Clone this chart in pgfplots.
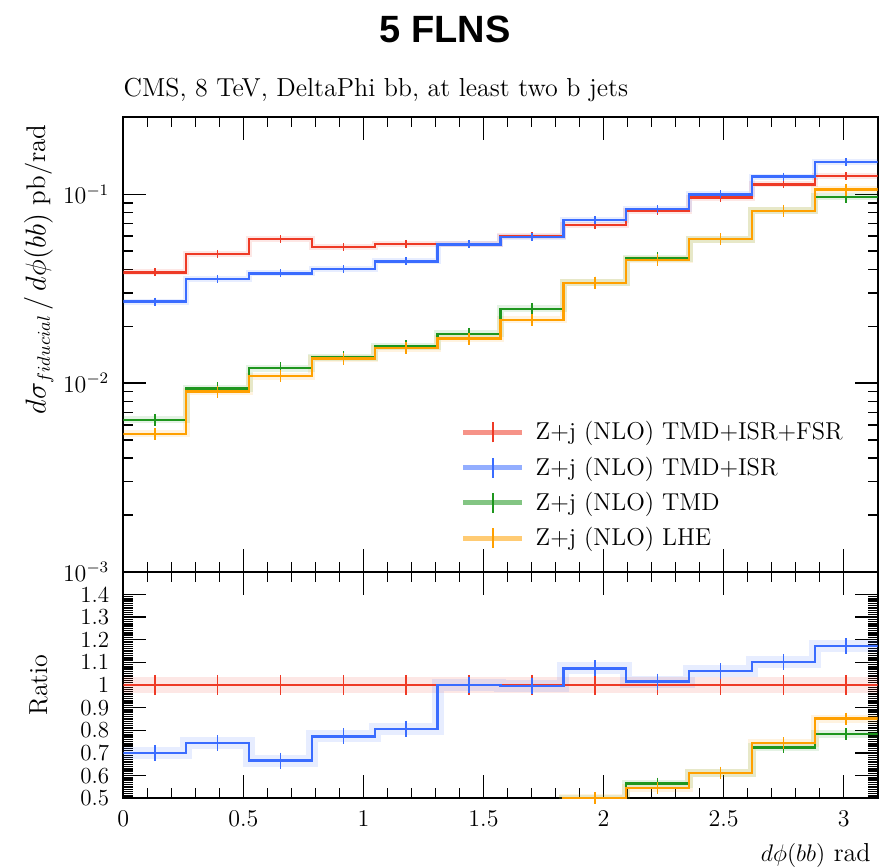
\documentclass[border=0pt]{standalone}
\usepackage{pgfplots}
\pgfplotsset{compat=1.18}
\usepackage{pgfplotstable}
\usepackage{fontspec}
\newfontfamily\titlefont{Liberation Sans}

\definecolor{cred}{RGB}{238,58,38}
\definecolor{cblue}{RGB}{58,108,255}
\definecolor{cgreen}{RGB}{30,150,30}
\definecolor{corange}{RGB}{255,160,0}

% main panel: left bin edge, bin centre, values
\pgfplotstableread{
edge ctr r b g o
0.0000 0.1309 0.0386 0.0270 0.00637 0.00537
0.2618 0.3927 0.0483 0.0356 0.00937 0.00900
0.5236 0.6545 0.0578 0.0381 0.01197 0.01089
0.7854 0.9163 0.0526 0.0402 0.01368 0.01346
1.0472 1.1781 0.0547 0.0441 0.01570 0.01528
1.3090 1.4399 0.0543 0.0543 0.01824 0.01718
1.5708 1.7017 0.0598 0.0595 0.0247 0.0216
1.8326 1.9635 0.0686 0.0731 0.0340 0.0340
2.0944 2.2253 0.0816 0.0835 0.0458 0.0449
2.3562 2.4871 0.0960 0.1000 0.0578 0.0578
2.6180 2.7489 0.113 0.124 0.0816 0.0816
2.8798 3.0107 0.125 0.148 0.0971 0.106
3.1416 3.0107 0.125 0.148 0.0971 0.106
}\maintab

% ratio panel
\pgfplotstableread{
edge ctr r b g o
0.0000 0.1309 1 0.700 0.165 0.139
0.2618 0.3927 1 0.744 0.194 0.186
0.5236 0.6545 1 0.666 0.207 0.188
0.7854 0.9163 1 0.773 0.260 0.256
1.0472 1.1781 1 0.807 0.287 0.279
1.3090 1.4399 1 1.000 0.336 0.316
1.5708 1.7017 1 0.995 0.413 0.361
1.8326 1.9635 1 1.073 0.495 0.502
2.0944 2.2253 1 1.015 0.565 0.545
2.3562 2.4871 1 1.061 0.612 0.612
2.6180 2.7489 1 1.102 0.725 0.744
2.8798 3.0107 1 1.171 0.783 0.852
3.1416 3.0107 1 1.171 0.783 0.852
}\ratiotab

\pgfplotsset{
  rivet/.style={
    scale only axis, width=377.2pt,
    xmin=0, xmax=3.1416,
    axis line style={line width=0.9pt},
    every tick/.style={line width=0.7pt, black},
    major tick length=11.5pt, minor tick length=5pt,
    xtick={0,0.5,1,1.5,2,2.5,3}, minor x tick num=4,
    tick label style={font=\fontsize{11.5}{13}\selectfont},
    yticklabel style={xshift=-3.5pt},
    xticklabel style={yshift=-3pt},
    every axis plot/.append style={line width=1.2pt},
  },
  band/.style={const plot mark left, no marks, line width=#1, opacity=0.12, forget plot},
  hist/.style={const plot mark left, no marks},
  errm/.style={only marks, mark=|, mark size=#1, mark options={line width=0.8pt}, forget plot, skip coords between index={12}{13}},
}

\begin{document}
\begin{tikzpicture}
\useasboundingbox (-61.65pt,-34.85pt) rectangle (377.85pt,399.15pt);

\begin{axis}[rivet, name=main, at={(0pt,113.3pt)}, anchor=south west,
  height=227.2pt,
  ymode=log, ymin=1e-3, ymax=0.256,
  ytick={1e-3,1e-2,1e-1},
  xticklabels={},
  ylabel={$d\sigma_{fiducial}\,/\,d\phi(bb)$ pb/rad},
  every axis y label/.style={at={(axis description cs:-0.103,1)}, anchor=base east, rotate=90, font=\fontsize{13.5}{15}\selectfont},
  legend style={at={(axis description cs:0.447,0.34)}, anchor=north west, draw=none, fill=none,
    font=\fontsize{12.2}{14}\selectfont, row sep=3pt, inner sep=0pt, column sep=3.5pt},
  legend cell align=left,
  legend image code/.code={
    \draw[#1, line width=2.4pt, opacity=0.55] (0pt,0pt) -- (29.5pt,0pt);
    \draw[#1, line width=0.8pt] (14.75pt,-5pt) -- (14.75pt,5pt);
  },
]
% bands
\addplot[band=3pt, cred] table[x=edge, y=r] {\maintab};
\addplot[band=3pt, cblue] table[x=edge, y=b] {\maintab};
\addplot[band=3.5pt, cgreen] table[x=edge, y=g] {\maintab};
\addplot[band=3.5pt, corange] table[x=edge, y=o] {\maintab};
% histograms
\addplot[hist, cred] table[x=edge, y=r] {\maintab};
\addlegendentry{Z+j (NLO) TMD+ISR+FSR}
\addplot[hist, cblue] table[x=edge, y=b] {\maintab};
\addlegendentry{Z+j (NLO) TMD+ISR}
\addplot[hist, cgreen] table[x=edge, y=g] {\maintab};
\addlegendentry{Z+j (NLO) TMD}
\addplot[hist, corange] table[x=edge, y=o] {\maintab};
\addlegendentry{Z+j (NLO) LHE}
% error ticks
\addplot[errm=2pt, cred] table[x=ctr, y=r] {\maintab};
\addplot[errm=2pt, cblue] table[x=ctr, y=b] {\maintab};
\addplot[errm=3pt, cgreen] table[x=ctr, y=g] {\maintab};
\addplot[errm=3pt, corange] table[x=ctr, y=o] {\maintab};
\end{axis}

\begin{axis}[rivet, name=ratio, at={(0pt,0pt)}, anchor=south west,
  height=113.3pt,
  ymin=0.5, ymax=1.5,
  ytick={0.5,0.6,0.7,0.8,0.9,1,1.1,1.2,1.3,1.4},
  yticklabels={0.5,0.6,0.7,0.8,0.9,1,1.1,1.2,1.3,1.4},
  minor y tick num=9,
  ylabel={Ratio},
  every axis y label/.style={at={(axis description cs:-0.101,0.5)}, anchor=base, rotate=90, font=\fontsize{13}{15}\selectfont},
  xlabel={$d\phi(bb)$ rad},
  every axis x label/.style={at={(axis description cs:1,-0.281)}, anchor=base east, font=\fontsize{13}{15}\selectfont},
]
\addplot[band=8pt, cred] table[x=edge, y=r] {\ratiotab};
\addplot[band=6pt, cblue] table[x=edge, y=b] {\ratiotab};
\addplot[band=4pt, cgreen] table[x=edge, y=g] {\ratiotab};
\addplot[band=4pt, corange] table[x=edge, y=o] {\ratiotab};
\addplot[hist, cred] table[x=edge, y=r] {\ratiotab};
\addplot[hist, cblue] table[x=edge, y=b] {\ratiotab};
\addplot[hist, cgreen] table[x=edge, y=g] {\ratiotab};
\addplot[hist, corange] table[x=edge, y=o] {\ratiotab};
\addplot[errm=5pt, cred] table[x=ctr, y=r] {\ratiotab};
\addplot[errm=4pt, cblue] table[x=ctr, y=b] {\ratiotab};
\addplot[errm=3pt, cgreen] table[x=ctr, y=g] {\ratiotab};
\addplot[errm=3pt, corange] table[x=ctr, y=o] {\ratiotab};
\end{axis}

\node[anchor=base, font=\titlefont\bfseries\fontsize{19}{22}\selectfont]
  at ([shift={(161pt,37.6pt)}]main.north west) {5 FLNS};
\node[anchor=base west, inner sep=0pt, font=\fontsize{13}{15}\selectfont]
  at ([shift={(0pt,10.6pt)}]main.north west) {CMS, 8 TeV, DeltaPhi bb, at least two b jets};
\end{tikzpicture}
\end{document}
